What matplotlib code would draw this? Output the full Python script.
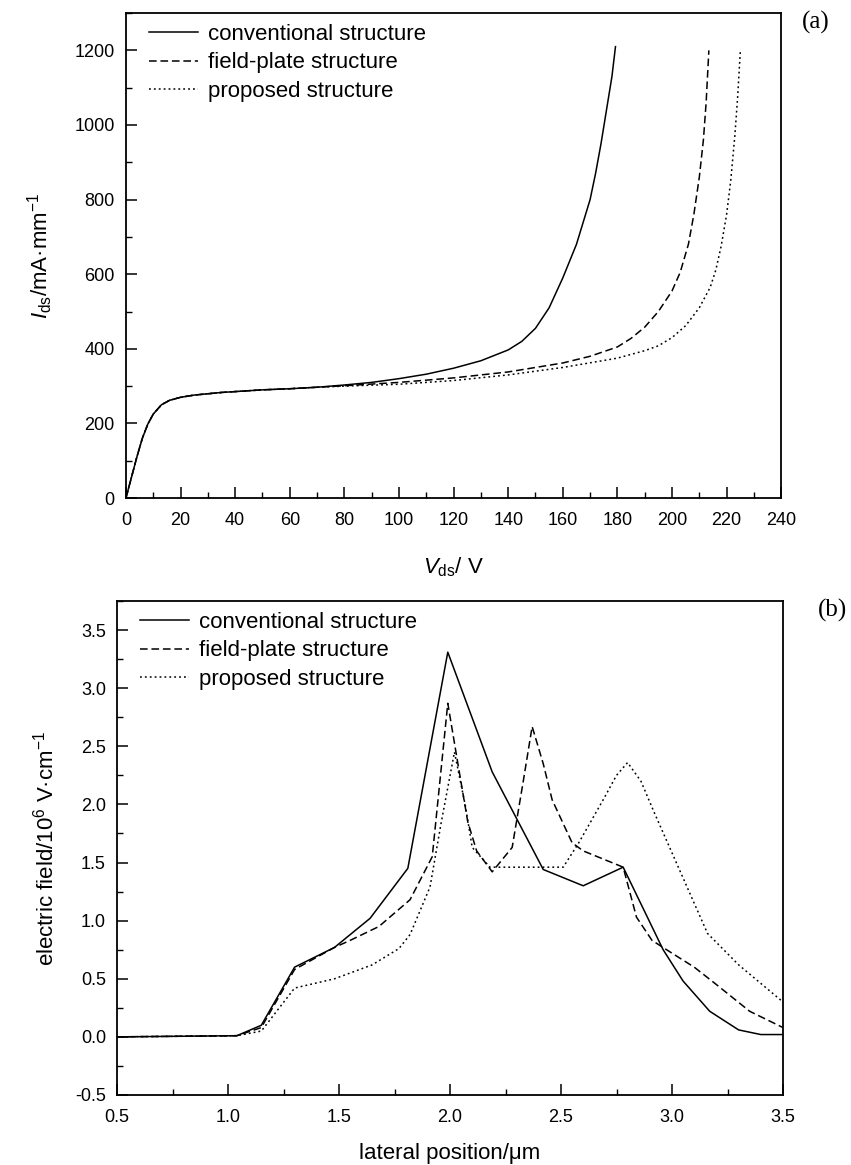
import matplotlib.pyplot as plt
from matplotlib.ticker import MultipleLocator

plt.rcParams['font.family'] = ['Liberation Sans', 'DejaVu Sans']
plt.rcParams['mathtext.fontset'] = 'custom'
plt.rcParams['mathtext.rm'] = 'Liberation Sans'
plt.rcParams['mathtext.it'] = 'Liberation Sans:italic'
plt.rcParams['axes.unicode_minus'] = False

# (a) output characteristics
vds_conv = [0, 2, 4, 6, 8, 10, 13, 16, 20, 25, 35, 50, 60, 70, 80, 90, 100, 110, 120, 130, 140, 145, 150, 155, 160, 165, 170, 172, 174, 176, 178, 179.3]
ids_conv = [0, 55, 110, 160, 198, 225, 250, 262, 270, 276, 283, 290, 293, 297, 303, 310, 320, 332, 348, 368, 397, 420, 455, 510, 590, 680, 800, 870, 950, 1040, 1130, 1210]

vds_fp = [0, 2, 4, 6, 8, 10, 13, 16, 20, 25, 35, 50, 60, 70, 80, 100, 120, 140, 160, 170, 180, 185, 190, 195, 200, 203, 206, 208, 210, 211.5, 212.5, 213.5]
ids_fp = [0, 55, 110, 160, 198, 225, 250, 262, 270, 276, 283, 290, 293, 297, 301, 310, 322, 338, 362, 380, 405, 428, 458, 500, 555, 605, 680, 760, 860, 960, 1060, 1200]

vds_prop = [0, 2, 4, 6, 8, 10, 13, 16, 20, 25, 35, 50, 60, 70, 80, 100, 120, 140, 160, 180, 190, 195, 200, 205, 210, 214, 216, 218, 220, 221.5, 223, 224, 225]
ids_prop = [0, 55, 110, 160, 198, 225, 250, 262, 270, 276, 283, 290, 293, 297, 300, 305, 315, 330, 350, 375, 395, 408, 430, 462, 510, 565, 610, 675, 760, 850, 970, 1070, 1195]

# (b) lateral electric field
x_conv = [0.5, 1.04, 1.15, 1.3, 1.48, 1.64, 1.81, 1.99, 2.19, 2.42, 2.60, 2.78, 2.96, 3.05, 3.17, 3.3, 3.4, 3.5]
e_conv = [0.0, 0.01, 0.1, 0.6, 0.77, 1.02, 1.45, 3.31, 2.28, 1.44, 1.30, 1.46, 0.75, 0.48, 0.22, 0.06, 0.02, 0.02]

x_fp = [0.5, 1.04, 1.15, 1.3, 1.48, 1.55, 1.68, 1.82, 1.92, 1.99, 2.04, 2.08, 2.12, 2.19, 2.28, 2.33, 2.37, 2.42, 2.46, 2.55, 2.6, 2.78, 2.84, 2.91, 3.0, 3.1, 3.2, 3.35, 3.5]
e_fp = [0.0, 0.01, 0.08, 0.58, 0.77, 0.83, 0.95, 1.18, 1.55, 2.87, 2.3, 1.85, 1.6, 1.42, 1.63, 2.2, 2.67, 2.35, 2.04, 1.67, 1.6, 1.46, 1.03, 0.83, 0.72, 0.6, 0.45, 0.22, 0.08]

x_prop = [0.5, 1.04, 1.15, 1.3, 1.48, 1.65, 1.77, 1.82, 1.91, 1.96, 2.02, 2.07, 2.10, 2.18, 2.51, 2.58, 2.69, 2.75, 2.80, 2.86, 2.92, 3.04, 3.16, 3.3, 3.5]
e_prop = [0.0, 0.01, 0.05, 0.42, 0.5, 0.62, 0.76, 0.88, 1.29, 1.84, 2.45, 1.98, 1.63, 1.46, 1.46, 1.67, 2.04, 2.25, 2.36, 2.2, 1.93, 1.41, 0.89, 0.62, 0.3]

labels = ['conventional structure', 'field-plate structure', 'proposed structure']

fig = plt.figure(figsize=(8.51, 11.65), dpi=100)
ax1 = fig.add_axes([0.148, 0.5725, 0.770, 0.4163])
ax2 = fig.add_axes([0.1375, 0.0601, 0.7826, 0.424])

lw = 1.1
dash = (0, (5, 2.5))
dot = (0, (1.2, 2))

ax1.plot(vds_conv, ids_conv, 'k-', lw=lw, label=labels[0])
ax1.plot(vds_fp, ids_fp, 'k', ls=dash, lw=lw, label=labels[1])
ax1.plot(vds_prop, ids_prop, 'k', ls=dot, lw=lw, label=labels[2])
ax1.set_xlim(0, 240)
ax1.set_ylim(0, 1300)
ax1.xaxis.set_major_locator(MultipleLocator(20))
ax1.xaxis.set_minor_locator(MultipleLocator(10))
ax1.yaxis.set_major_locator(MultipleLocator(200))
ax1.yaxis.set_minor_locator(MultipleLocator(100))
ax1.set_xlabel(r'$V_{\rm ds}$/ V', fontsize=16, labelpad=19)
ax1.set_ylabel(r'$I_{\rm ds}$/mA·mm$^{-1}$', fontsize=16, labelpad=14)

ax2.plot(x_conv, e_conv, 'k-', lw=lw, label=labels[0])
ax2.plot(x_fp, e_fp, 'k', ls=dash, lw=lw, label=labels[1])
ax2.plot(x_prop, e_prop, 'k', ls=dot, lw=lw, label=labels[2])
ax2.set_xlim(0.5, 3.5)
ax2.set_ylim(-0.5, 3.75)
ax2.xaxis.set_major_locator(MultipleLocator(0.5))
ax2.xaxis.set_minor_locator(MultipleLocator(0.25))
ax2.yaxis.set_major_locator(MultipleLocator(0.5))
ax2.yaxis.set_minor_locator(MultipleLocator(0.25))
ax2.set_xlabel('lateral position/μm', fontsize=16, labelpad=12)
ax2.set_ylabel('electric field/10$^{6}$ V·cm$^{-1}$', fontsize=16, labelpad=12)

for ax in (ax1, ax2):
    for s in ax.spines.values():
        s.set_linewidth(1.3)
    ax.tick_params(which='both', direction='in', top=False, right=False, labelsize=13)
    ax.tick_params(axis='x', pad=10)
    ax.tick_params(axis='y', pad=8)
    ax.tick_params(which='major', length=8, width=1.1)
    ax.tick_params(which='minor', length=4, width=1.0)
    ax.legend(loc='upper left', bbox_to_anchor=(0.018, 1.0), frameon=False, fontsize=16,
              handlelength=2.2, handletextpad=0.45, labelspacing=0.33, borderaxespad=0.1)

fig.text(0.958, 0.981, '(a)', fontsize=18, family='Liberation Serif', ha='center', va='center')
fig.text(0.978, 0.476, '(b)', fontsize=18, family='Liberation Serif', ha='center', va='center')

fig.savefig('out.png', dpi=100, facecolor='white')
